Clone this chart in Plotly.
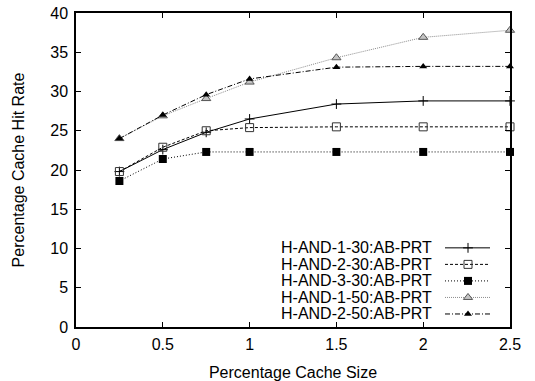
import plotly.graph_objects as go

# Cache size (% of data) on the x axis
cache_size = [0.25, 0.5, 0.75, 1.0, 1.5, 2.0, 2.5]

# Hit rate (%) per configuration
names = [
    "H-AND-1-30:AB-PRT",
    "H-AND-2-30:AB-PRT",
    "H-AND-3-30:AB-PRT",
    "H-AND-1-50:AB-PRT",
    "H-AND-2-50:AB-PRT",
]
hit_1_30 = [19.8, 22.6, 24.8, 26.5, 28.4, 28.8, 28.8]
hit_2_30 = [19.8, 22.9, 25.0, 25.4, 25.5, 25.5, 25.5]
hit_3_30 = [18.6, 21.4, 22.3, 22.3, 22.3, 22.3, 22.3]
hit_1_50 = [24.0, 26.9, 29.1, 31.2, 34.3, 36.9, 37.8]
hit_2_50 = [24.0, 27.0, 29.6, 31.6, 33.1, 33.2, 33.2]

x_ticks = [0, 0.5, 1, 1.5, 2, 2.5]
x_tick_text = ["0", "0.5", "1", "1.5", "2", "2.5"]
y_ticks = list(range(0, 45, 5))

FONT = "Liberation Sans, Arial, Helvetica, sans-serif"
FS = 16

styles = [
    dict(line=dict(color="black", width=1, dash="solid"),
         marker=dict(symbol="cross-thin-open", size=7, color="black", line=dict(color="black", width=1))),
    dict(line=dict(color="black", width=1, dash="3px,2px"),
         marker=dict(symbol="square-open", size=8, color="#333333", line=dict(width=1))),
    dict(line=dict(color="black", width=1, dash="1px,2px"),
         marker=dict(symbol="square", size=8, color="black")),
    dict(line=dict(color="#8c8c8c", width=1, dash="1px,1px"),
         marker=dict(symbol="triangle-up", size=8, color="#c4c4c4", line=dict(color="#555555", width=1))),
    dict(line=dict(color="black", width=1, dash="5px,2px,1px,2px"),
         marker=dict(symbol="triangle-up", size=7, color="black")),
]
series = [hit_1_30, hit_2_30, hit_3_30, hit_1_50, hit_2_50]

fig = go.Figure()
for name, ys, st in zip(names, series, styles):
    fig.add_trace(go.Scatter(
        x=cache_size, y=ys, name=name, mode="lines+markers",
        line=st["line"], marker=st["marker"], cliponaxis=False, showlegend=False,
    ))

# Key drawn inside the plot (bottom right), text right-aligned with the sample to its right
PW, PH = 434, 313.4
row_y = [79, 62.5, 46, 29.5, 13]
sx0, sx1, smid, tx = 369, 414, 392, 357
for name, st, ry in zip(names, styles, row_y):
    fig.add_trace(go.Scatter(
        x=[sx0, sx1], y=[ry, ry], mode="lines", line=st["line"],
        xaxis="x2", yaxis="y2", showlegend=False, hoverinfo="skip", cliponaxis=False,
    ))
    fig.add_trace(go.Scatter(
        x=[smid], y=[ry], mode="markers", marker=st["marker"],
        xaxis="x2", yaxis="y2", showlegend=False, hoverinfo="skip", cliponaxis=False,
    ))
    fig.add_annotation(
        x=tx, y=ry, xref="x2", yref="y2", text=name, showarrow=False,
        xanchor="right", yanchor="middle", borderpad=0,
        font=dict(family=FONT, size=FS, color="black"),
    )

axis_common = dict(
    showgrid=False, zeroline=False, showline=True, linecolor="black", linewidth=1.5,
    mirror="ticks", ticks="inside", ticklen=5, tickwidth=1, tickcolor="black",
    tickfont=dict(family=FONT, size=FS, color="black"), automargin=False,
)

fig.update_layout(
    width=535, height=381,
    margin=dict(l=76, r=25, t=13, b=54),
    paper_bgcolor="white", plot_bgcolor="white",
    font=dict(family=FONT, size=FS, color="black"),
    xaxis=dict(range=[0, 2.5], tickvals=x_ticks, ticktext=x_tick_text, ticklabelstandoff=2,
               title=dict(text="Percentage Cache Size", font=dict(family=FONT, size=FS), standoff=15),
               **axis_common),
    yaxis=dict(range=[0, 40], tickvals=y_ticks, ticklabelstandoff=3,
               title=dict(text="Percentage Cache Hit Rate", font=dict(family=FONT, size=FS), standoff=22),
               **axis_common),
    xaxis2=dict(range=[0, PW], overlaying="x", visible=False, anchor="y2"),
    yaxis2=dict(range=[0, PH], overlaying="y", visible=False, anchor="x2"),
)

fig.write_html("out.html")
